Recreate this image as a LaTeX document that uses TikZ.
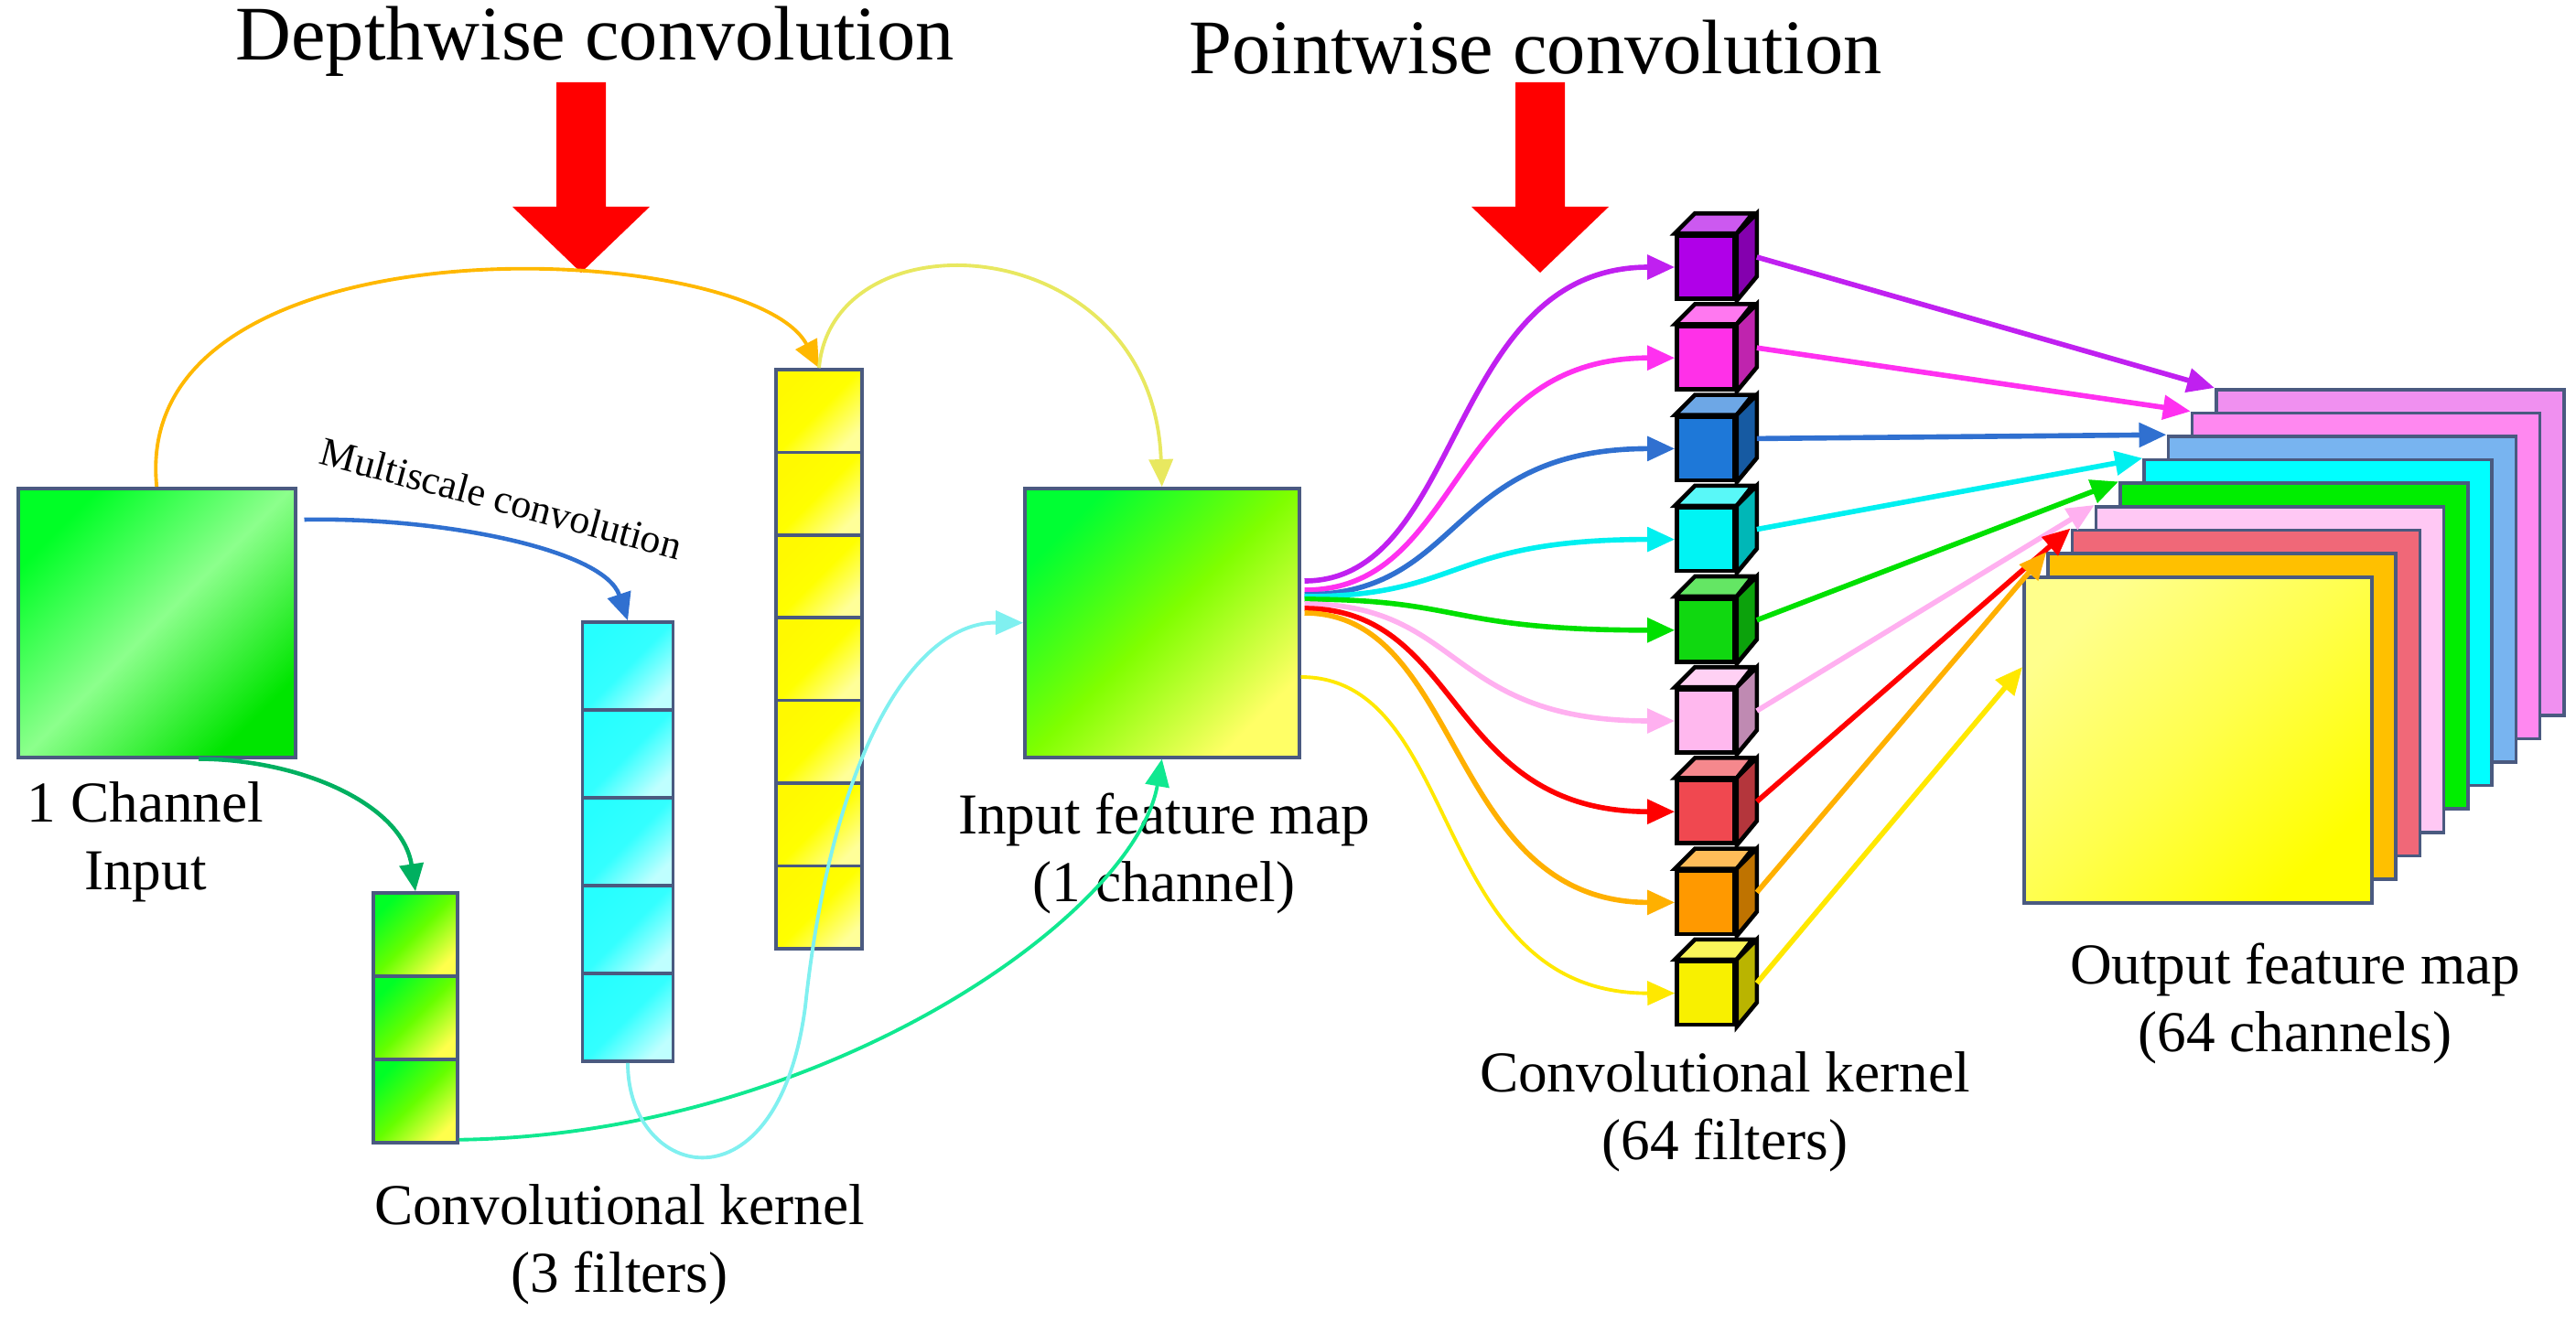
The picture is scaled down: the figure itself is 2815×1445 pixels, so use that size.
\documentclass[tikz,border=0pt]{standalone}
\usepackage{fontspec}
\setmainfont{Liberation Serif}
\usetikzlibrary{arrows.meta,positioning,calc}

\definecolor{cP}{HTML}{B000E8}\definecolor{cM}{HTML}{FF30E8}\definecolor{cB}{HTML}{1E78D8}
\definecolor{cC}{HTML}{00F4F4}\definecolor{cG}{HTML}{10D810}\definecolor{cK}{HTML}{FFB8EE}
\definecolor{cR}{HTML}{F04850}\definecolor{cO}{HTML}{FF9900}\definecolor{cY}{HTML}{F8F000}
\definecolor{sP}{HTML}{F090F0}\definecolor{sM}{HTML}{FF88F0}\definecolor{sB}{HTML}{78B4F0}
\definecolor{sC}{HTML}{00FFFF}\definecolor{sG}{HTML}{00EE00}\definecolor{sK}{HTML}{FFC8F4}
\definecolor{sR}{HTML}{F06878}\definecolor{sO}{HTML}{FFC000}
\definecolor{aP}{HTML}{C020F0}\definecolor{aM}{HTML}{FF30F0}\definecolor{aB}{HTML}{3070D0}
\definecolor{aC}{HTML}{00F0F0}\definecolor{aG}{HTML}{00E000}\definecolor{aK}{HTML}{FFB0F0}
\definecolor{aR}{HTML}{FF0000}\definecolor{aO}{HTML}{FFB000}\definecolor{aY}{HTML}{FFE800}
\definecolor{lineO}{HTML}{FFB800}\definecolor{lineY}{HTML}{E8E860}\definecolor{lineG}{HTML}{00B060}
\definecolor{lineT}{HTML}{10E890}\definecolor{lineL}{HTML}{80F0F0}\definecolor{frame}{HTML}{4A5A80}

\tikzset{
  box/.style={draw=frame,line width=1pt,inner sep=0pt,anchor=north west},
  glossy/.style n args={3}{shade,left color=#1,right color=#2,middle color=#3,shading angle=45},
  cell/.style={draw=frame,line width=1pt,inner sep=0pt},
  cubef/.style={draw=black,line width=1.3pt,inner sep=0pt,minimum width=6.3mm,minimum height=6.9mm},
  sheet/.style={draw=frame,line width=1pt,inner sep=0pt,anchor=north west,minimum width=38mm,minimum height=35.6mm},
  tip/.style={-{Triangle[length=3mm,width=2.6mm]}},
  fan/.style={tip,line width=1.6pt},
  thin/.style={tip,line width=1.1pt},
  lbl/.style={font=\fontsize{18}{21}\selectfont,align=center}
}

\begin{document}
\begin{tikzpicture}[x=0.1mm,y=-0.1mm]
\useasboundingbox (0,0) rectangle (2815,1445);

% titles and red arrows
\node[font=\fontsize{24}{28}\selectfont] (dwt) at (650,45) {Depthwise convolution};
\node[font=\fontsize{24}{28}\selectfont] (pwt) at (1678,52) {Pointwise convolution};
\foreach \x in {635,1683}
  \fill[red] (\x-27,90) -- (\x+27,90) -- (\x+27,226) -- (\x+75,226) -- (\x,298) -- (\x-75,226) -- (\x-27,226) -- cycle;

% input and feature map
\node[box,glossy={green!85!cyan}{green!90!black}{green!45!white},minimum width=30.3mm,minimum height=29.4mm] (inp) at (18,532) {};
\node[box,glossy={green!80!cyan}{yellow!60!white}{green!50!yellow},minimum width=30mm,minimum height=29.4mm] (inm) at (1118,532) {};

% kernels
\foreach \k in {1,2,3}
  \node[cell,glossy={green!85!cyan}{yellow!70!white}{green!60!yellow},minimum width=9.2mm,minimum height=9.1mm] (g\k) at (454,{976+91*(\k-0.5)}) {};
\foreach \k in {1,...,5}
  \node[cell,glossy={cyan!85!white}{cyan!25!white}{cyan!80!white},minimum width=9.9mm,minimum height=9.6mm] (m\k) at (686,{680+96*(\k-0.5)}) {};
\foreach \k in {1,...,7}
  \node[cell,glossy={yellow!95!orange}{yellow!40!white}{yellow},minimum width=9.4mm,minimum height=9.04mm] (y\k) at (895,{404+90.4*(\k-0.5)}) {};

% labels
\node[lbl] (inl) at (159,920) {1 Channel\\Input};
\node[lbl] (kl3) at (677,1360) {Convolutional kernel\\(3 filters)};
\node[lbl] (fml) at (1272,933) {Input feature map\\(1 channel)};
\node[lbl] (kl64) at (1885,1215) {Convolutional kernel\\(64 filters)};
\node[lbl] (oml) at (2508,1097) {Output feature map\\(64 channels)};
\node[font=\fontsize{12.5}{14}\selectfont,rotate=-15] (msl) at (548,545) {Multiscale convolution};

% depthwise connectors
\draw[thin,lineO] (inp.north) .. controls (140,230) and (820,260) .. (y1.north);
\draw[thin,lineY] (y1.north) .. controls (910,230) and (1260,250) .. (inm.north);
\draw[thin,aB,line width=1.3pt] ([shift={(8,36)}]inp.north east) .. controls (480,565) and (660,600) .. (m1.north);
\draw[thin,lineG,line width=1.3pt] ([xshift=4.6mm]inp.south) .. controls (330,830) and (440,880) .. (g1.north);
\draw[thin,lineT] ([yshift=0.5mm]g3.south east) .. controls (900,1240) and (1240,1000) .. (inm.south);
\draw[thin,lineL] (m5.south) .. controls (686,1290) and (850,1330) .. (880,1100)
  .. controls (910,820) and (1000,680) .. (inm.west);

% output sheets, back to front
\foreach \c [count=\k from 0] in {sP,sM,sB,sC,sG,sK,sR,sO}
  \node[sheet,fill=\c] (o\k) at ({2420-26.25*\k},{424+25.6*\k}) {};
\node[sheet,glossy={yellow!45!white}{yellow}{yellow!70!white}] (o8) at (2210,629) {};

% pointwise cubes
\foreach \c [count=\k from 0] in {cP,cM,cB,cC,cG,cK,cR,cO,cY}{
  \pgfmathsetmacro\yy{292+99.2*\k}
  \node[cubef,fill=\c] (k\k) at (1864,\yy) {};
  \draw[line width=1.3pt,fill=\c!65!white] (k\k.north west) -- ++(22,-22) -- ++(63,0) -- (k\k.north east) -- cycle;
  \draw[line width=1.3pt,fill=\c!75!black] (k\k.north east) -- ++(22,-22) -- ++(0,69) -- (k\k.south east) -- cycle;
}

% fan into cubes
\foreach \c/\s [count=\k from 0] in {aP/635,aM/645,aB/650,aC/652,aG/655,aK/660,aR/665,aO/670}
  \draw[fan,\c] ($(inm.north east)+(4,\s-532)$) .. controls (1600,\s) and (1580,{292+99.2*\k}) .. (k\k.west);
\draw[thin,aY] ($(inm.north east)+(0,208)$) .. controls (1600,740) and (1560,1086) .. (k8.west);

% cubes to output sheets
\foreach \c [count=\k from 0] in {aP,aM,aB,aC,aG,aK,aR,aO}
  \draw[fan,\c] ($(k\k.east)+(22,-11)$) -- (o\k.north west);
\draw[fan,aY] ($(k8.east)+(22,-11)$) -- ($(o8.north west)+(0,100)$);
\end{tikzpicture}
\end{document}
